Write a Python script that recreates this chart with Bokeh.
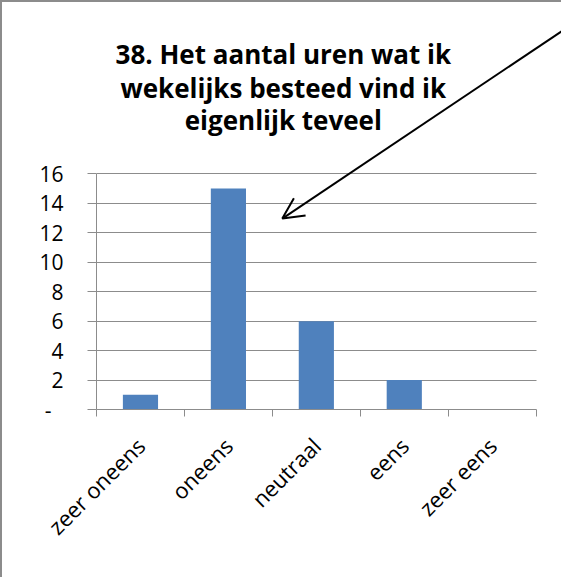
from bokeh.plotting import figure
from bokeh.models import FixedTicker, Arrow, OpenHead
from bokeh.core.properties import value
from bokeh.embed import file_html
from bokeh.resources import INLINE
import math

# ---- data ----
categories = ["zeer oneens", "oneens", "neutraal", "eens", "zeer eens"]
counts = [1, 15, 6, 2, 0]
y_ticks = [0, 2, 4, 6, 8, 10, 12, 14, 16]
y_tick_labels = ["-\u2007", "2", "4", "6", "8", "10", "12", "14", "16"]
title_lines = ["38. Het aantal uren wat ik", "wekelijks besteed vind ik", "eigenlijk teveel"]

# ---- layout (pixels) ----
BORDER = 2                      # css border on left / top of the chart area
W, H = 561 - BORDER, 577 - BORDER
OX, OY = BORDER, BORDER          # canvas origin in page pixels
MB_LEFT, MB_BOTTOM = 94, 170
PX_LEFT = OX + MB_LEFT           # x = 0 (start of first category)
PX_ZERO = OY + H - MB_BOTTOM     # y = 0
PX_RIGHT = 533.8                 # x = n (end of last category)
PX_TOP = 172.5                   # y = 16
YMAX = 16
n = len(categories)
sx = (PX_RIGHT - PX_LEFT) / n
sy = (PX_ZERO - PX_TOP) / YMAX


def dx(px):
    return (px - PX_LEFT) / sx


def dy(py):
    return (PX_ZERO - py) / sy


FONT = "Open Sans"
GRID = "#8C8C8C"
BAR = "#4F81BD"

xs = [i + 0.5 for i in range(n)]
bounds = list(range(n + 1))

p = figure(width=W, height=H, x_range=(0, dx(OX + W)), y_range=(0, dy(OY)),
           output_backend="svg", toolbar_location=None,
           min_border_left=MB_LEFT, min_border_right=0, min_border_top=0,
           min_border_bottom=MB_BOTTOM)
p.styles = {"box-sizing": "content-box",
            "border-left": f"{BORDER}px solid #8C8C8C",
            "border-top": f"{BORDER}px solid #8C8C8C",
            "margin": "0"}
p.outline_line_color = None
p.background_fill_color = "white"
p.border_fill_color = "white"

# horizontal gridlines, limited to the category span
p.xgrid.visible = False
yg = p.ygrid[0]
if "cross_bounds" in yg.properties():
    yg.ticker = FixedTicker(ticks=y_ticks, minor_ticks=[])
    yg.grid_line_color = GRID
    yg.cross_bounds = (0, n)
else:
    yg.visible = False
    p.segment(x0=[0] * len(y_ticks), x1=[n] * len(y_ticks), y0=y_ticks, y1=y_ticks,
              line_color=GRID, line_width=1)

p.vbar(x=xs, top=counts, width=0.4, fill_color=BAR, line_color=None)

# x axis
xa = p.xaxis[0]
xa.bounds = (0, n)
xa.ticker = FixedTicker(ticks=xs, minor_ticks=bounds)
xa.major_label_overrides = {x: c for x, c in zip(xs, categories)}
xa.major_tick_line_color = None
xa.major_tick_out = 0
xa.major_tick_in = 0
xa.minor_tick_line_color = GRID
xa.minor_tick_out = 7
xa.minor_tick_in = 0
xa.axis_line_color = GRID
xa.major_label_orientation = math.pi / 4
xa.major_label_standoff = 25
xa.major_label_text_font = FONT
xa.major_label_text_font_size = "22px"
xa.major_label_text_color = "black"

# y axis
ya = p.yaxis[0]
ya.bounds = (0, YMAX)
ya.ticker = FixedTicker(ticks=y_ticks, minor_ticks=[])
ya.major_label_overrides = {t: l for t, l in zip(y_ticks, y_tick_labels)}
ya.major_tick_line_color = GRID
ya.major_tick_out = 9
ya.major_tick_in = 0
ya.minor_tick_line_color = None
ya.axis_line_color = GRID
ya.major_label_standoff = 24
ya.major_label_text_font = FONT
ya.major_label_text_font_size = "21px"
ya.major_label_text_color = "black"

# title (three centred lines)
title_x = dx(282)
title_base = [53, 87, 119]
p.text(x=[title_x] * len(title_lines), y=[dy(b) for b in title_base], text=title_lines,
       text_align="center", text_baseline="alphabetic",
       text_font=value(FONT), text_font_style="bold", text_font_size="26px",
       text_color="black")

# callout arrow
p.add_layout(Arrow(x_start=dx(575), y_start=dy(20), x_end=dx(281), y_end=dy(217),
                   line_color="black", line_width=2,
                   end=OpenHead(size=21, line_color="black", line_width=2)))

open("out.html", "w").write(file_html(p, INLINE))
